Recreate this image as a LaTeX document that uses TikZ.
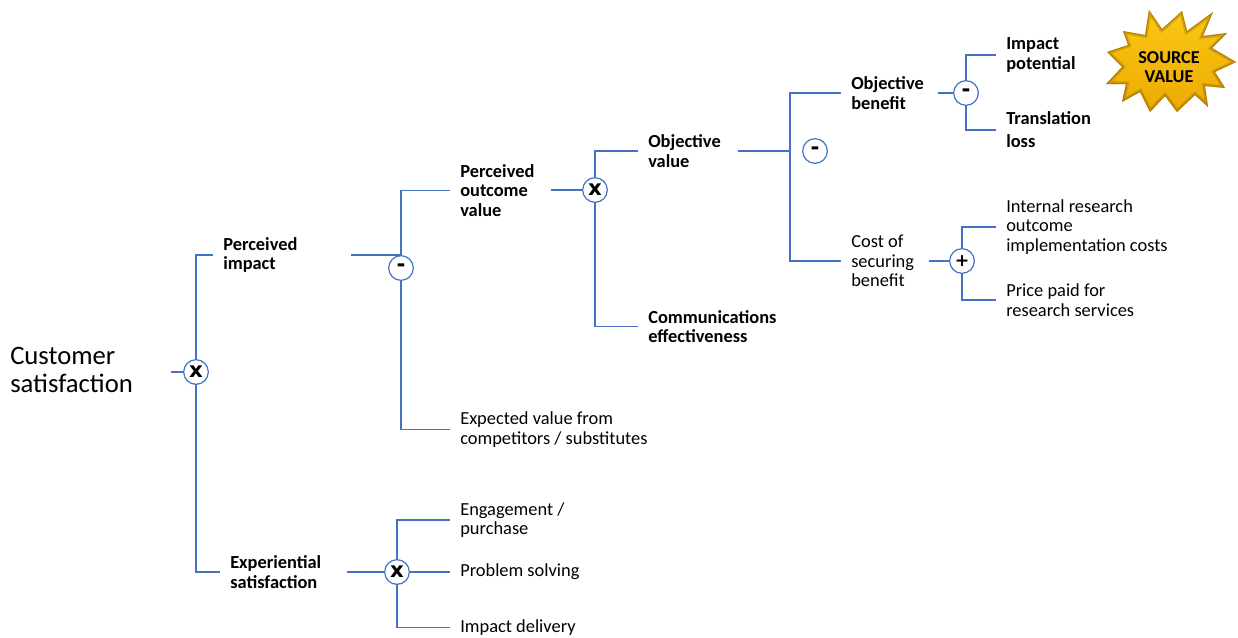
\documentclass[tikz,border=0pt]{standalone}
\usepackage{fontspec}
\setmainfont{Carlito}
\newfontfamily\opfont{DejaVu Sans}
\usepackage{tikz}

\definecolor{treeblue}{RGB}{68,114,196}
\definecolor{goldtop}{RGB}{250,200,20}
\definecolor{goldbot}{RGB}{236,170,0}
\definecolor{goldedge}{RGB}{150,100,0}

\newcommand{\burstpath}{(1149,10) -- (1162,29) -- (1182,11) -- (1187,31) -- (1213,12) -- (1203,36)
	-- (1227,33) -- (1212,48) -- (1236,62) -- (1215,72) -- (1225,88) -- (1205,86)
	-- (1208,107) -- (1195,95) -- (1177,112) -- (1165,96) -- (1150,112) -- (1140,92)
	-- (1122,102) -- (1126,84) -- (1106,84) -- (1122,67) -- (1107,52) -- (1128,45)
	-- (1123,31) -- (1145,35) -- cycle}

\begin{document}
\begin{tikzpicture}[x=0.75pt, y=-0.75pt,
		link/.style = {treeblue, line width=0.9pt},
		op/.style = {draw=treeblue, line width=0.9pt, circle, fill=white, minimum size=18.5pt, inner sep=0pt, font=\opfont\bfseries\fontsize{16}{16}\selectfont},
		item/.style = {anchor=west, align=flush left, inner xsep=7.5pt, inner ysep=0pt, yshift=-1.1pt, font=\fontsize{13.8}{14.8}\selectfont},
		main/.style = {item, font=\bfseries\fontsize{13.8}{14.8}\selectfont}]
		\fill[white] (0,0) rectangle (1238,637);
		\useasboundingbox (0,0) rectangle (1238,637);

		% tree labels
		\node[item, text width=112.5pt, font=\fontsize{20}{20.5}\selectfont] (root) at (0,368.5) {Customer\\satisfaction};
		\node[main, text width=87.75pt] (pimp) at (213,253.5) {Perceived\\impact};
		\node[main, text width=60pt] (pov) at (450,189) {Perceived\\outcome\\value};
		\node[item] (ev) at (450,428) {Expected value from\\competitors / substitutes};
		\node[main, text width=59.25pt] (ov) at (638,149.5) {Objective\\value};
		\node[main] (ce) at (638,325) {Communications\\effectiveness};
		\node[main, text width=57pt] (ob) at (841,91.5) {Objective\\benefit};
		\node[item, text width=50.25pt] (csb) at (841,259.5) {Cost of\\securing\\benefit};
		\node[main] (ip) at (996,53.5) {Impact\\potential};
		\node[main] (tl) at (996,128.5) {Translation\\[2.5pt]loss};
		\node[item] (irc) at (996,225.5) {Internal research\\outcome\\implementation costs};
		\node[item] (ppr) at (996,298.5) {Price paid for\\research services};
		\node[main, text width=79.5pt] (es) at (220,570.5) {Experiential\\satisfaction};
		\node[item] (ep) at (450,518.5) {Engagement /\\purchase};
		\node[item] (psv) at (450,570) {Problem solving};
		\node[item] (idl) at (450,626) {Impact delivery};

		% operators
		\node[op] (op1) at (196,372) {x};
		\node[op] (op2) at (401,268) {-};
		\node[op] (op3) at (595,190) {x};
		\node[op] (op4) at (815,151) {-};
		\node[op] (op5) at (966,93) {-};
		\node[op, font=\opfont\bfseries\fontsize{13}{13}\selectfont] (op6) at (962,261) {+};
		\node[op] (op7) at (397,572) {x};
		\coordinate (j4) at (790,151);

		% brackets
		\draw[link] (root.east |- op1) -- (op1);
		\draw[link] (pimp.west) -| (op1);
		\draw[link] (es.west) -| (op1);

		\draw[link] (pimp.east) -- (pimp.east -| op2);
		\draw[link] (pov.west) -| (op2);
		\draw[link] (ev.west) -| (op2);

		\draw[link] (pov.east |- op3) -- (op3);
		\draw[link] (ov.west) -| (op3);
		\draw[link] (ce.west) -| (op3);

		\draw[link] (ov.east |- j4) -- (j4);
		\draw[link] (ob.west) -| (j4) |- (csb.west);

		\draw[link] (ob.east |- op5) -- (op5);
		\draw[link] (ip.west) -| (op5);
		\draw[link] (tl.west) -| (op5);

		\draw[link] (csb.east |- op6) -- (op6);
		\draw[link] (irc.west) -| (op6);
		\draw[link] (ppr.west) -| (op6);

		\draw[link] (es.east |- op7) -- (op7);
		\draw[link] (ep.west) -| (op7);
		\draw[link] (idl.west) -| (op7);
		\draw[link] (op7) -- (op7 -| psv.west);

		% starburst with a soft inner rim
		\shade[top color=goldtop, bottom color=goldbot] \burstpath;
		\begin{scope}
			\clip \burstpath;
			\draw[goldedge, line width=4pt, opacity=0.35, line join=miter] \burstpath;
			\draw[goldedge, line width=1.5pt, opacity=0.5, line join=miter] \burstpath;
		\end{scope}
		\node[align=center, inner sep=0pt, font=\bfseries\fontsize{13.6}{13.7}\selectfont] (src) at (1169,67) {SOURCE\\VALUE};
	\end{tikzpicture}
\end{document}
